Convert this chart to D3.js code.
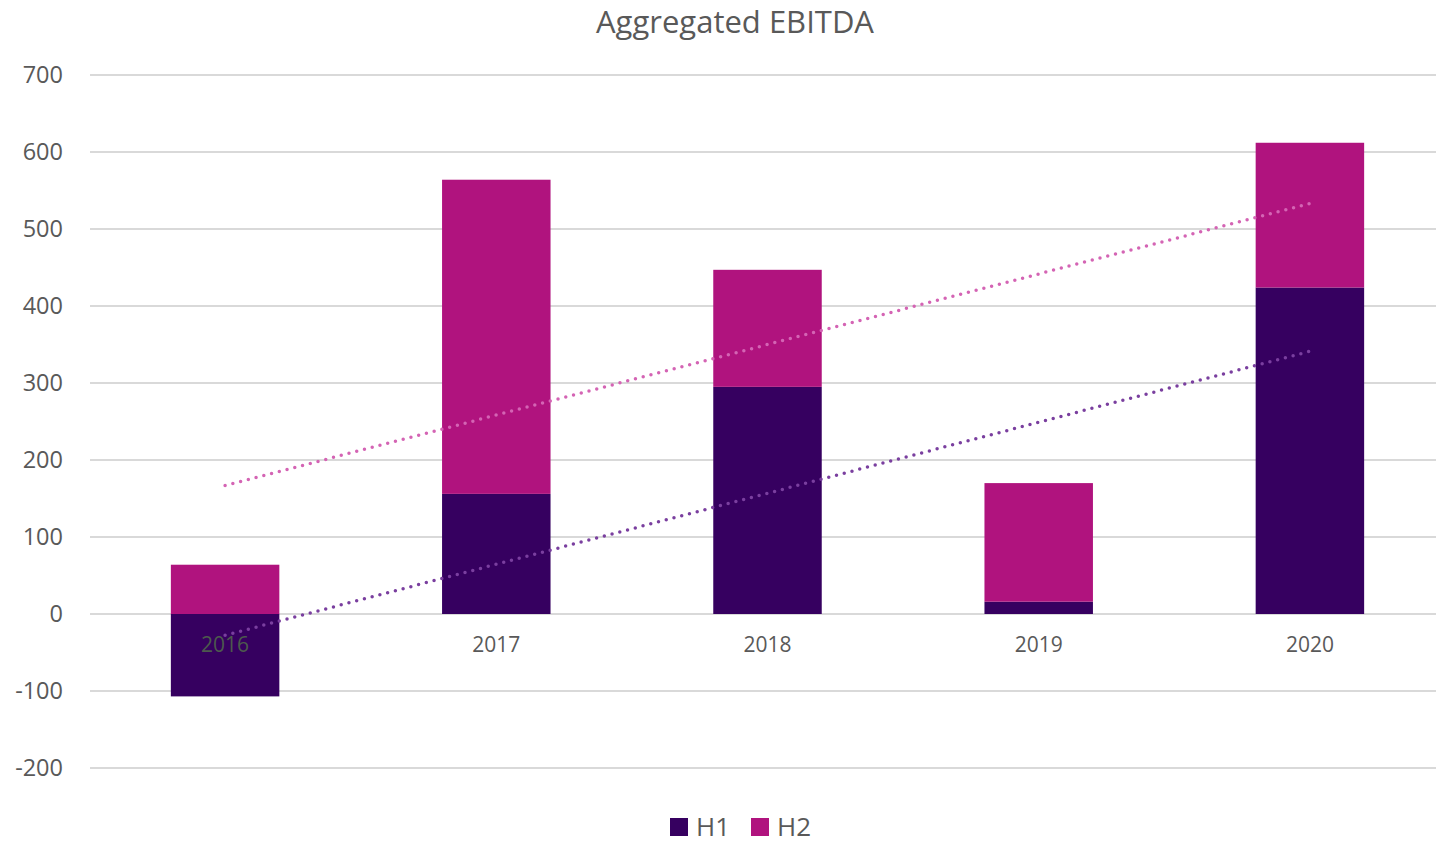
<!DOCTYPE html>
<html>
<head>
<meta charset="utf-8">
<script src="https://cdn.jsdelivr.net/npm/d3@7"></script>
<style>
  body { margin: 0; background: #fff; }
  text { font-family: "Open Sans", "Liberation Sans", sans-serif; }
</style>
</head>
<body>
<svg id="chart"></svg>
<script>
const years = ["2016", "2017", "2018", "2019", "2020"];
const h1 = [-107, 156, 295, 16, 424];
const h2 = [64, 408, 152, 154, 188];
const yTicks = [-200, -100, 0, 100, 200, 300, 400, 500, 600, 700];

const width = 1436, height = 845;
const colors = { H1: "#360060", H2: "#b0137e" };
const trendColors = { H1: "#7a3f9f", H2: "#d464b4" };

const svg = d3.select("#chart").attr("width", width).attr("height", height);

const x = d3.scaleBand()
  .domain(years)
  .range([89.5, 1445.5])
  .paddingInner(0.6)
  .paddingOuter(0.3);

const y = d3.scaleLinear().domain([-200, 700]).range([768, 75]);

// gridlines
svg.append("g")
  .selectAll("line")
  .data(yTicks)
  .join("line")
  .attr("x1", 90).attr("x2", width)
  .attr("y1", d => y(d)).attr("y2", d => y(d))
  .attr("stroke", "#d9d9d9").attr("stroke-width", 2);

// y labels
svg.append("g")
  .selectAll("text")
  .data(yTicks)
  .join("text")
  .attr("x", 63).attr("y", d => y(d))
  .attr("dy", "0.35em")
  .attr("text-anchor", "end")
  .attr("font-size", 23.5)
  .attr("fill", "#595959")
  .text(d => d);

// bars: H1 from 0, H2 stacked on positives
const bars = years.map((yr, i) => {
  const a = h1[i], b = h2[i];
  const h1seg = [Math.min(0, a), Math.max(0, a)];
  const base = a > 0 ? a : 0;
  return { yr, h1seg, h2seg: [base, base + b] };
});

svg.append("g")
  .selectAll("rect")
  .data(bars)
  .join("rect")
  .attr("x", d => x(d.yr))
  .attr("width", x.bandwidth())
  .attr("y", d => y(d.h1seg[1]))
  .attr("height", d => y(d.h1seg[0]) - y(d.h1seg[1]))
  .attr("fill", colors.H1);

svg.append("g")
  .selectAll("rect")
  .data(bars)
  .join("rect")
  .attr("x", d => x(d.yr))
  .attr("width", x.bandwidth())
  .attr("y", d => y(d.h2seg[1]))
  .attr("height", d => y(d.h2seg[0]) - y(d.h2seg[1]))
  .attr("fill", colors.H2);

// linear trendlines (least squares), stacked like the series
function fit(vals) {
  const xs = vals.map((_, i) => i + 1);
  const mx = d3.mean(xs), my = d3.mean(vals);
  const slope = d3.sum(xs, (xi, i) => (xi - mx) * (vals[i] - my)) / d3.sum(xs, xi => (xi - mx) ** 2);
  return xi => my + slope * (xi - mx);
}
const f1 = fit(h1), f2 = fit(h2);
const t1 = years.map((yr, i) => ({ yr, v: f1(i + 1) }));
const t2 = years.map((yr, i) => ({ yr, v: f1(i + 1) + f2(i + 1) }));

const line = d3.line()
  .x(d => x(d.yr) + x.bandwidth() / 2)
  .y(d => y(d.v));

[[t2, trendColors.H2], [t1, trendColors.H1]].forEach(([data, c]) => {
  svg.append("path")
    .datum([data[0], data[data.length - 1]])
    .attr("d", line)
    .attr("fill", "none")
    .attr("stroke", c)
    .attr("stroke-width", 3.5)
    .attr("stroke-linecap", "round")
    .attr("stroke-dasharray", "0,8");
});

// x labels
svg.append("g")
  .selectAll("text")
  .data(years)
  .join("text")
  .attr("x", d => x(d) + x.bandwidth() / 2)
  .attr("y", 645)
  .attr("dy", "0.35em")
  .attr("text-anchor", "middle")
  .attr("font-size", 21)
  .attr("fill", (d, i) => h1[i] < 0 ? "#4d5a4d" : "#595959")
  .text(d => d);

// title
svg.append("text")
  .attr("x", 735).attr("y", 33)
  .attr("text-anchor", "middle")
  .attr("font-size", 31)
  .attr("fill", "#595959")
  .text("Aggregated EBITDA");

// legend
const legend = svg.append("g");
[["H1", 670], ["H2", 751]].forEach(([k, lx]) => {
  legend.append("rect")
    .attr("x", lx).attr("y", 818)
    .attr("width", 18).attr("height", 18)
    .attr("fill", colors[k]);
  legend.append("text")
    .attr("x", lx + 26).attr("y", 827)
    .attr("dy", "0.35em")
    .attr("font-size", 26)
    .attr("fill", "#595959")
    .text(k);
});
</script>
</body>
</html>
